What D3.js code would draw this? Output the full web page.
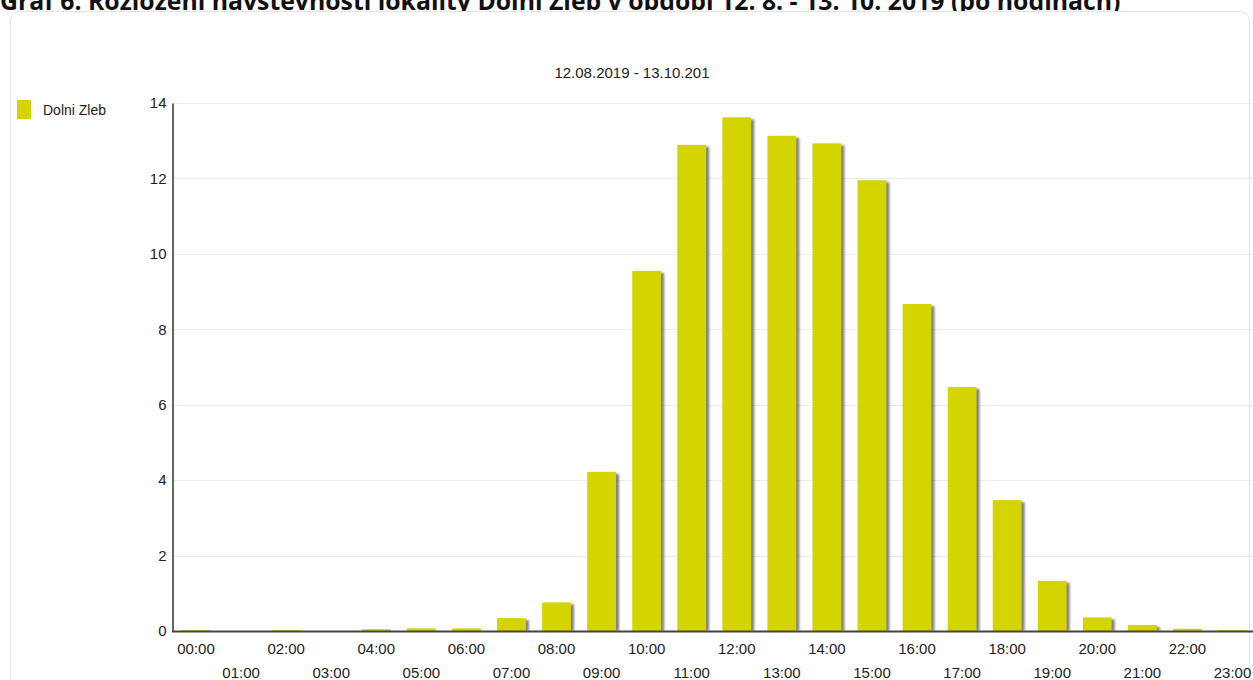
<!DOCTYPE html>
<html><head><meta charset="utf-8">
<script src="https://cdn.jsdelivr.net/npm/d3@7"></script>
<style>
html,body{margin:0;padding:0;background:#fff;overflow:hidden}
svg{display:block}
</style></head>
<body>
<svg id="chart" width="1253" height="680"></svg>
<script>
const title = "Graf 6. Rozložení návštěvnosti lokality Dolní Žleb v období 12. 8. - 13. 10. 2019 (po hodinách)";
const subtitle = "12.08.2019 - 13.10.201";
const seriesName = "Dolni Zleb";
const hours = ["00:00","01:00","02:00","03:00","04:00","05:00","06:00","07:00","08:00","09:00","10:00","11:00",
               "12:00","13:00","14:00","15:00","16:00","17:00","18:00","19:00","20:00","21:00","22:00","23:00"];
const values = [0.02,0,0.02,0,0.05,0.07,0.07,0.34,0.76,4.22,9.55,12.89,13.62,13.13,12.93,11.95,8.67,6.47,3.47,1.33,0.36,0.16,0.06,0.02];
const yTicks = [0,2,4,6,8,10,12,14];

const svg = d3.select("#chart");
const font = "Liberation Sans, Arial, sans-serif";

// title (cut off at top, as in the reference)
svg.append("text").attr("x",0).attr("y",10)
  .attr("font-family","Open Sans, sans-serif").attr("font-weight","bold").attr("font-size",24.8)
  .attr("fill","#111").text(title);

// card
svg.append("rect").attr("x",10.5).attr("y",11.5).attr("width",1239).attr("height",700)
  .attr("rx",9).attr("fill","#fff").attr("stroke","#e3e3e3");

const x = d3.scaleBand().domain(hours).range([173.5,1255]).paddingInner(0.36).paddingOuter(0.18);
const y = d3.scaleLinear().domain([0,14]).range([631,103]);

// subtitle
svg.append("text").attr("x",632).attr("y",78).attr("text-anchor","middle")
  .attr("font-family",font).attr("font-size",15).attr("fill","#222").text(subtitle);

// legend
svg.append("rect").attr("x",17).attr("y",100).attr("width",14).attr("height",19).attr("fill","#d4d400");
svg.append("text").attr("x",43).attr("y",115).attr("font-family",font).attr("font-size",14)
  .attr("fill","#222").text(seriesName);

// gridlines
svg.append("g").selectAll("line").data(yTicks.filter(d=>d>0)).join("line")
  .attr("x1",173).attr("x2",1253).attr("y1",d=>Math.round(y(d))+0.5).attr("y2",d=>Math.round(y(d))+0.5)
  .attr("stroke","#ebebeb");

// shadow filter
const defs = svg.append("defs");
const f = defs.append("filter").attr("id","sh").attr("x","-20%").attr("y","-5%").attr("width","140%").attr("height","110%");
f.append("feGaussianBlur").attr("stdDeviation",0.8);

const bw = x.bandwidth();
// shadows
svg.append("g").selectAll("rect").data(values).join("rect")
  .attr("x",(d,i)=>x(hours[i])+3).attr("y",d=>y(d)+2)
  .attr("width",bw).attr("height",d=>Math.max(0,y(0)-y(d)-2))
  .attr("fill","#555").attr("opacity",0.75).attr("filter","url(#sh)");
// bars
svg.append("g").selectAll("rect").data(values).join("rect")
  .attr("x",(d,i)=>x(hours[i])).attr("y",d=>y(d))
  .attr("width",bw).attr("height",d=>y(0)-y(d))
  .attr("fill","#d4d400");

// y axis
const yAxis = d3.axisLeft(y).tickValues(yTicks).tickSize(0).tickPadding(6).tickFormat(d3.format("d"));
const gy = svg.append("g").attr("transform","translate(172.5,0)").call(yAxis);
gy.select(".domain").attr("stroke","#333").attr("stroke-width",1.5);
gy.selectAll("text").attr("font-family",font).attr("font-size",15).attr("fill","#222");

// x axis
const xAxis = d3.axisBottom(x).tickSize(0);
const gx = svg.append("g").attr("transform","translate(0,631.5)").call(xAxis);
gx.select(".domain").attr("stroke","#444").attr("stroke-width",2).attr("d","M172,0H1253");
gx.selectAll("text").attr("font-family",font).attr("font-size",15).attr("fill","#222")
  .attr("dy","0").attr("y",(d,i)=> i%2===0 ? 22.5 : 46.5);
</script>
</body></html>
